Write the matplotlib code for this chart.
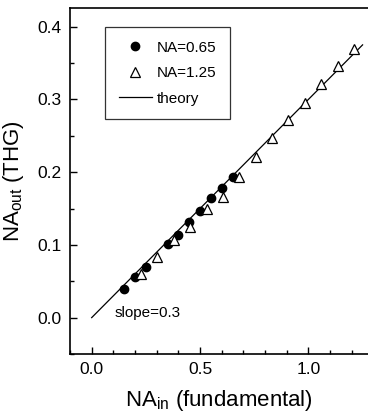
import matplotlib
matplotlib.use("Agg")
import matplotlib.pyplot as plt
from matplotlib.ticker import MultipleLocator

plt.rcParams["font.family"] = ["Liberation Sans", "DejaVu Sans"]
plt.rcParams["mathtext.fontset"] = "custom"
plt.rcParams["mathtext.rm"] = "Liberation Sans"

na065_x = [0.15, 0.20, 0.25, 0.35, 0.40, 0.45, 0.50, 0.55, 0.60, 0.65]
na065_y = [0.040, 0.0555, 0.070, 0.101, 0.113, 0.131, 0.147, 0.164, 0.178, 0.193]

na125_x = [0.227, 0.303, 0.379, 0.454, 0.530, 0.605, 0.681, 0.757, 0.832,
           0.908, 0.983, 1.059, 1.135, 1.210]
na125_y = [0.060, 0.083, 0.107, 0.125, 0.150, 0.166, 0.194, 0.2205, 0.247,
           0.272, 0.295, 0.321, 0.346, 0.369]

theory_x = [0.0, 1.25]
slope = 0.3

fig = plt.figure(figsize=(3.68, 4.18), dpi=100)
ax = fig.add_axes([70 / 368, 1 - 354 / 418, 1 - 70 / 368, 346 / 418])

ax.plot(theory_x, [slope * x for x in theory_x], color="black", lw=0.9, label="theory")
ax.plot(na065_x, na065_y, "o", color="black", ms=6, label="NA=0.65")
ax.plot(na125_x, na125_y, "^", mfc="white", mec="black", mew=0.9, ms=7.5, label="NA=1.25")

ax.set_xlim(-0.1, 1.275)
ax.set_ylim(-0.05, 0.4257)
ax.xaxis.set_major_locator(MultipleLocator(0.5))
ax.xaxis.set_minor_locator(MultipleLocator(0.1))
ax.yaxis.set_major_locator(MultipleLocator(0.1))
ax.yaxis.set_minor_locator(MultipleLocator(0.05))
ax.tick_params(which="both", direction="in", labelsize=12.5, width=1.0, pad=6)
ax.tick_params(which="major", length=5)
ax.tick_params(which="minor", length=3)
ax.spines["right"].set_visible(False)
for s in ["left", "bottom", "top"]:
    ax.spines[s].set_linewidth(1.2)

ax.text(0.105, 0.006, "slope=0.3", fontsize=11, va="center", ha="left")

ax.set_xlabel(r"NA$_{\rm in}$ (fundamental)", fontsize=16, labelpad=8)
ax.set_ylabel(r"NA$_{\rm out}$ (THG)", fontsize=16, labelpad=8)

handles, labels = ax.get_legend_handles_labels()
order = [1, 2, 0]
leg = ax.legend([handles[i] for i in order], [labels[i] for i in order],
                loc="upper left", bbox_to_anchor=(0.117, 0.945), borderaxespad=0,
                fontsize=11, frameon=True, fancybox=False, edgecolor="black",
                handlelength=2.2, handletextpad=0.3, borderpad=0.9,
                labelspacing=0.75)
leg.get_frame().set_linewidth(0.9)

fig.savefig("out.png", dpi=100)
